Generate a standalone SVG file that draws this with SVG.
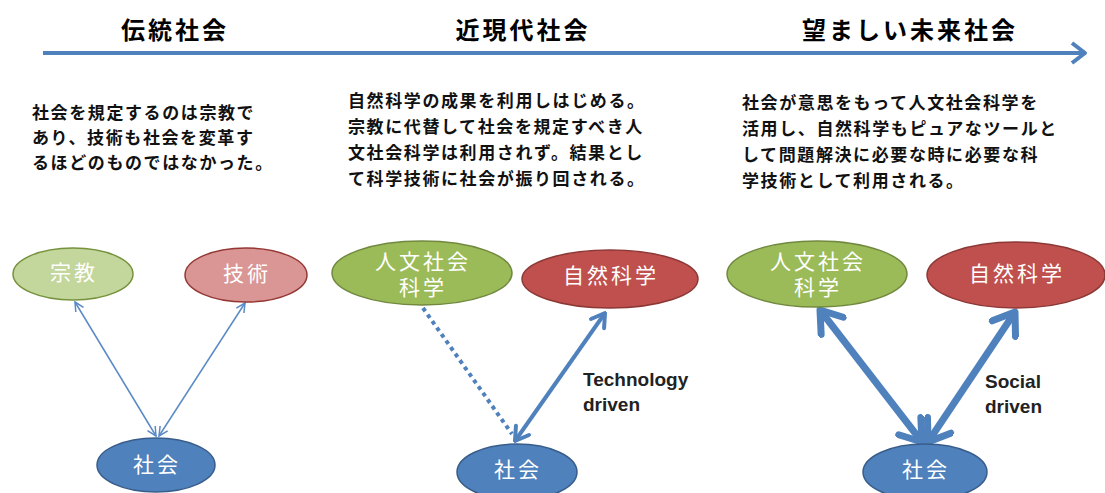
<svg xmlns="http://www.w3.org/2000/svg" width="1105" height="493" viewBox="0 0 1105 493">
<style>
.title{font-family:"Liberation Sans","Noto Sans CJK JP",sans-serif;font-size:24px;font-weight:bold;fill:#000;letter-spacing:3px;text-anchor:middle}
.para{font-family:"Liberation Sans","Noto Sans CJK JP",sans-serif;font-size:17px;font-weight:bold;fill:#111;letter-spacing:1.6px}
.nt{font-family:"Liberation Sans","Noto Sans CJK JP",sans-serif;font-size:21px;fill:#fff;letter-spacing:3px;text-anchor:middle;dominant-baseline:central}
.lbl{font-family:"Liberation Sans","Noto Sans CJK JP",sans-serif;font-size:19px;font-weight:bold;fill:#222}
.blue{fill:#4f81bd;stroke:#385d8a;stroke-width:1.5}
.green{fill:#9bbb59;stroke:#71893f;stroke-width:1.5}
.red{fill:#c0504d;stroke:#8c3836;stroke-width:1.5}
.lgreen{fill:#c3d69b;stroke:#76923c;stroke-width:1.5}
.lred{fill:#d99694;stroke:#953735;stroke-width:1.5}
</style>
<defs>
<marker id="chevS" markerUnits="userSpaceOnUse" viewBox="0 0 12 12" refX="11" refY="6" markerWidth="12" markerHeight="12" orient="auto-start-reverse">
<path d="M2,1.5 L11,6 L2,10.5" fill="none" stroke="#5a8ac6" stroke-width="1.5"/>
</marker>
<marker id="chevM" markerUnits="userSpaceOnUse" viewBox="0 0 20 20" refX="18" refY="10" markerWidth="20" markerHeight="20" orient="auto-start-reverse">
<path d="M5,2 L18,10 L5,18" fill="none" stroke="#4f81bd" stroke-width="4" stroke-linecap="round" stroke-linejoin="round"/>
</marker>
<marker id="chevL" markerUnits="userSpaceOnUse" viewBox="0 0 34 34" refX="30" refY="17" markerWidth="34" markerHeight="34" orient="auto-start-reverse">
<path d="M10,3 L30,17 L10,31" fill="none" stroke="#4f81bd" stroke-width="7" stroke-linecap="round" stroke-linejoin="round"/>
</marker>
<marker id="chevT" markerUnits="userSpaceOnUse" viewBox="0 0 20 24" refX="17" refY="12" markerWidth="20" markerHeight="24" orient="auto">
<path d="M4,2 L17,12 L4,22" fill="none" stroke="#4f81bd" stroke-width="4" stroke-linejoin="round"/>
</marker>
</defs>

<g id="timeline">
<line x1="43" y1="53" x2="1085" y2="53" stroke="#4f81bd" stroke-width="4" marker-end="url(#chevT)"/>
<text class="title" x="175" y="39">伝統社会</text>
<text class="title" x="523" y="39">近現代社会</text>
<text class="title" x="910" y="39">望ましい未来社会</text>
</g>

<g id="texts">
<text class="para" x="32" y="119">社会を規定するのは宗教で</text>
<text class="para" x="32" y="144">あり、技術も社会を変革す</text>
<text class="para" x="32" y="169">るほどのものではなかった。</text>
<text class="para" x="348" y="107">自然科学の成果を利用しはじめる。</text>
<text class="para" x="348" y="133">宗教に代替して社会を規定すべき人</text>
<text class="para" x="348" y="159">文社会科学は利用されず。結果とし</text>
<text class="para" x="348" y="185">て科学技術に社会が振り回される。</text>
<text class="para" x="742" y="109">社会が意思をもって人文社会科学を</text>
<text class="para" x="742" y="135">活用し、自然科学もピュアなツールと</text>
<text class="para" x="742" y="161">して問題解決に必要な時に必要な科</text>
<text class="para" x="742" y="187">学技術として利用される。</text>
</g>

<g id="connectors">
<line x1="75" y1="302" x2="156" y2="436" stroke="#5a8ac6" stroke-width="1.5" marker-start="url(#chevS)" marker-end="url(#chevS)"/>
<line x1="245" y1="303" x2="159" y2="436" stroke="#5a8ac6" stroke-width="1.5" marker-start="url(#chevS)" marker-end="url(#chevS)"/>
<line x1="423" y1="308" x2="512" y2="434" stroke="#4f81bd" stroke-width="4" stroke-dasharray="4 4"/>
<line x1="515" y1="441" x2="605" y2="313" stroke="#4f81bd" stroke-width="4" marker-start="url(#chevM)" marker-end="url(#chevM)"/>
<line x1="820" y1="310" x2="922" y2="442" stroke="#4f81bd" stroke-width="7" marker-start="url(#chevL)" marker-end="url(#chevL)"/>
<line x1="1015" y1="312" x2="928" y2="442" stroke="#4f81bd" stroke-width="7" marker-start="url(#chevL)" marker-end="url(#chevL)"/>
<text class="lbl" x="583" y="386">Technology</text>
<text class="lbl" x="583" y="411">driven</text>
<text class="lbl" x="985" y="388">Social</text>
<text class="lbl" x="985" y="413">driven</text>
</g>

<g id="n-shukyo"><ellipse class="lgreen" cx="73" cy="274" rx="60" ry="26"/><text class="nt" x="74" y="272">宗教</text></g>
<g id="n-gijutsu"><ellipse class="lred" cx="246" cy="275" rx="61" ry="27"/><text class="nt" x="247" y="273">技術</text></g>
<g id="n-shakai1"><ellipse class="blue" cx="156" cy="465" rx="59" ry="27"/><text class="nt" x="157" y="464">社会</text></g>

<g id="n-jinbun2"><ellipse class="green" cx="422" cy="273" rx="90" ry="32"/><text class="nt" x="423" y="261">人文社会</text><text class="nt" x="423" y="287">科学</text></g>
<g id="n-shizen2"><ellipse class="red" cx="610" cy="279" rx="88" ry="29"/><text class="nt" x="611" y="275">自然科学</text></g>
<g id="n-shakai2"><ellipse class="blue" cx="517" cy="472" rx="60" ry="28"/><text class="nt" x="518" y="469">社会</text></g>

<g id="n-jinbun3"><ellipse class="green" cx="817" cy="274" rx="90" ry="33"/><text class="nt" x="818" y="261">人文社会</text><text class="nt" x="818" y="287">科学</text></g>
<g id="n-shizen3"><ellipse class="red" cx="1016" cy="275" rx="89" ry="33"/><text class="nt" x="1017" y="273">自然科学</text></g>
<g id="n-shakai3"><ellipse class="blue" cx="925" cy="472" rx="62" ry="28"/><text class="nt" x="926" y="469">社会</text></g>
</svg>
